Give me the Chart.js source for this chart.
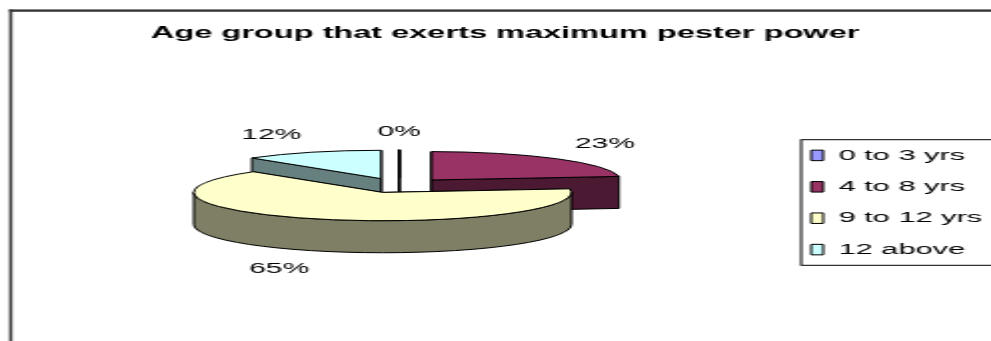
<!DOCTYPE html>
<html>
<head>
<meta charset="utf-8">
<script src="https://cdn.jsdelivr.net/npm/chart.js@4.4.1/dist/chart.umd.min.js"></script>
<style>
  html, body { margin: 0; padding: 0; background: #fff; overflow: hidden; }
</style>
</head>
<body>
<!-- the source picture is stretched 2x horizontally, so the canvas is drawn at half width and scaled by css -->
<canvas id="chart" width="496" height="341" style="display:block;width:991px;height:341px"></canvas>
<script>
const categories = ['0 to 3 yrs', '4 to 8 yrs', '9 to 12 yrs', '12 above'];
const shares = [0, 23, 65, 12];
const sliceColors = ['#9999FF', '#993366', '#FFFFCC', '#CCFFFF'];
const chartTitle = 'Age group that exerts maximum pester power';

const TILT = 0.3;      // how flat the pie top looks
const DEPTH = 32;      // pie thickness
const EXPLODE = 24.5;  // slice offset

Chart.defaults.font.family = '"Liberation Sans", Arial, sans-serif';
Chart.defaults.color = '#000';

// half the rgb of a hex colour, used for the slice walls
function darker(hex) {
    const n = parseInt(hex.slice(1), 16);
    const r = ((n >> 16) & 255) >> 1, g = ((n >> 8) & 255) >> 1, b = (n & 255) >> 1;
    return `rgb(${r},${g},${b})`;
}

function sliceGeom(arc) {
    const p = arc.getProps(['x', 'y', 'startAngle', 'endAngle', 'outerRadius']);
    const m = (p.startAngle + p.endAngle) / 2;
    const off = arc.options.offset || 0;
    const cy = p.y - DEPTH / 2; // keep the whole solid centred in the chart area
    return {
        s: p.startAngle, e: p.endAngle, m, off,
        r: p.outerRadius, ry: p.outerRadius * TILT,
        cx: p.x, cy,
        ax: p.x + Math.cos(m) * off,
        ay: cy + Math.sin(m) * off * TILT
    };
}

function radialFace(ctx, g, a, fill) {
    const px = g.ax + Math.cos(a) * g.r, py = g.ay + Math.sin(a) * g.ry;
    ctx.beginPath();
    ctx.moveTo(g.ax, g.ay);
    ctx.lineTo(px, py);
    ctx.lineTo(px, py + DEPTH);
    ctx.lineTo(g.ax, g.ay + DEPTH);
    ctx.closePath();
    ctx.fillStyle = fill;
    ctx.fill();
    ctx.stroke();
}

function drawSlice(ctx, arc) {
    const g = sliceGeom(arc);
    const top = arc.options.backgroundColor;
    const side = darker(top);

    // back faces first, then the ones looking at us
    const faces = [
        { a: g.s, front: Math.cos(g.s) < -1e-6 },
        { a: g.e, front: Math.cos(g.e) > 1e-6 }
    ];
    faces.filter(f => !f.front).forEach(f => radialFace(ctx, g, f.a, side));
    faces.filter(f => f.front).forEach(f => radialFace(ctx, g, f.a, side));

    // curved wall, only the front half of the ellipse
    [-2 * Math.PI, 0, 2 * Math.PI].forEach(k => {
        const a0 = Math.max(g.s, k), a1 = Math.min(g.e, k + Math.PI);
        if (a1 > a0) {
            ctx.beginPath();
            ctx.ellipse(g.ax, g.ay, g.r, g.ry, 0, a0, a1);
            ctx.ellipse(g.ax, g.ay + DEPTH, g.r, g.ry, 0, a1, a0, true);
            ctx.closePath();
            ctx.fillStyle = side;
            ctx.fill();
            ctx.stroke();
        }
    });

    ctx.beginPath();
    ctx.moveTo(g.ax, g.ay);
    ctx.ellipse(g.ax, g.ay, g.r, g.ry, 0, g.s, g.e);
    ctx.closePath();
    ctx.fillStyle = top;
    ctx.fill();
    ctx.stroke();
}

const clamp1 = v => Math.max(-1, Math.min(1, v));

const pie3d = {
    id: 'pie3d',
    beforeDraw(chart) {
        // outer chart frame (right and bottom edges are off the picture)
        const ctx = chart.ctx;
        ctx.save();
        ctx.fillStyle = '#383838';
        ctx.fillRect(4.6, 9.4, 1.6, chart.height);
        ctx.fillRect(4.6, 9.4, chart.width, 2.4);
        ctx.restore();
    },
    beforeDatasetsDraw(chart) {
        const ctx = chart.ctx;
        const arcs = chart.getDatasetMeta(0).data;
        const mid = a => (a.startAngle + a.endAngle) / 2;
        const order = arcs.map((a, i) => i)
            .sort((p, q) => Math.sin(mid(arcs[p])) - Math.sin(mid(arcs[q])));
        ctx.save();
        ctx.lineWidth = 1;
        ctx.strokeStyle = '#000';
        ctx.lineJoin = 'round';
        order.forEach(i => drawSlice(ctx, arcs[i]));
        ctx.restore();
        return false;
    },
    afterDraw(chart) {
        const ctx = chart.ctx;
        const arcs = chart.getDatasetMeta(0).data;

        // percentage labels
        ctx.save();
        ctx.font = '15px "Liberation Sans", Arial, sans-serif';
        ctx.fillStyle = '#000';
        ctx.textAlign = 'center';
        ctx.textBaseline = 'middle';
        arcs.forEach((arc, i) => {
            const g = sliceGeom(arc);
            const txt = shares[i] + '%';
            const hw = ctx.measureText(txt).width / 2, hh = 7;
            const c = Math.cos(g.m), sn = Math.sin(g.m);
            let x = g.cx + c * (g.r + g.off);
            let y = g.cy + sn * (g.r + g.off) * TILT + (sn > 0 ? DEPTH : 0);
            x += c * 14 + hw * clamp1(c * 3);
            y += sn * 11 + hh * clamp1(sn * 3);
            ctx.fillText(txt, x, y);
        });

        // box round the legend
        const boxes = chart.legend.legendHitBoxes;
        if (boxes && boxes.length) {
            const first = boxes[0], last = boxes[boxes.length - 1];
            ctx.strokeStyle = '#000';
            ctx.lineWidth = 1;
            ctx.strokeRect(first.left - 5, first.top - 8,
                chart.width, last.top + last.height + 16 - first.top);
        }
        ctx.restore();
    }
};

new Chart(document.getElementById('chart'), {
    type: 'pie',
    data: {
        labels: categories,
        datasets: [{
            data: shares,
            backgroundColor: sliceColors,
            borderColor: '#000',
            borderWidth: 1,
            offset: EXPLODE,
            radius: 94.5
        }]
    },
    options: {
        responsive: false,
        devicePixelRatio: 1,
        animation: false,
        events: [],
        layout: { padding: { left: 9.6, right: 0, top: 0, bottom: 0 } },
        plugins: {
            title: {
                display: true,
                text: chartTitle,
                color: '#000',
                font: { size: 16.3, weight: 'bold' },
                padding: { top: 24.2, bottom: 18.2 }
            },
            legend: {
                position: 'right',
                maxWidth: 106,
                // empty legend title only pushes the entries down to where they sit in the source
                title: { display: true, text: '', font: { size: 10 }, padding: { top: 52, bottom: 0 } },
                labels: {
                    boxWidth: 6,
                    boxHeight: 10.5,
                    padding: 16,
                    color: '#000',
                    font: { size: 15.4 }
                }
            },
            tooltip: { enabled: false }
        }
    },
    plugins: [pie3d]
});
</script>
</body>
</html>
